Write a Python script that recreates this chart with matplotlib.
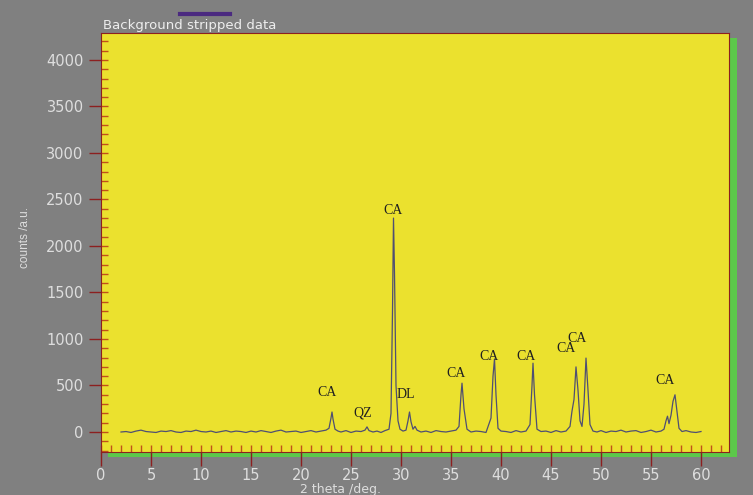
import numpy as np
import matplotlib.pyplot as plt
from matplotlib.patches import Rectangle
from matplotlib.lines import Line2D
from matplotlib.ticker import MultipleLocator

# traza XRD (2 theta, cuentas)
two_theta = [
    2.0, 2.5, 3.0, 3.5, 4.0, 4.5, 5.0, 5.5, 6.0, 6.5, 7.0, 7.5, 8.0, 8.5, 9.0, 9.5,
    10.0, 10.5, 11.0, 11.5, 12.0, 12.5, 13.0, 13.5, 14.0, 14.5, 15.0, 15.5, 16.0, 16.5,
    17.0, 17.5, 18.0, 18.5, 19.0, 19.5, 20.0, 20.5, 21.0, 21.5, 22.0, 22.5,
    22.8, 23.0, 23.1, 23.2, 23.4, 23.7, 24.0, 24.5, 25.0, 25.5, 26.0, 26.4, 26.6, 26.8,
    27.2, 27.6, 28.0, 28.4, 28.8, 29.0, 29.15, 29.25, 29.35, 29.5, 29.7, 29.9, 30.2,
    30.5, 30.7, 30.85, 31.0, 31.2, 31.4, 31.6, 32.0, 32.5, 33.0, 33.5, 34.0, 34.5,
    35.0, 35.5, 35.8, 36.0, 36.1, 36.3, 36.6, 37.0, 37.5, 38.0, 38.5, 39.0, 39.2,
    39.35, 39.5, 39.7, 40.0, 40.5, 41.0, 41.5, 42.0, 42.5, 42.9, 43.1, 43.2, 43.35,
    43.6, 44.0, 44.5, 45.0, 45.5, 46.0, 46.5, 46.9, 47.1, 47.3, 47.5, 47.7, 47.9,
    48.1, 48.3, 48.5, 48.7, 48.9, 49.2, 49.6, 50.0, 50.5, 51.0, 51.5, 52.0, 52.5,
    53.0, 53.5, 54.0, 54.5, 55.0, 55.5, 56.0, 56.3, 56.5, 56.65, 56.8, 57.0, 57.2,
    57.4, 57.6, 57.8, 58.1, 58.5, 59.0, 59.5, 60.0,
]
counts = [
    0, 5, -5, 10, 20, 5, 0, -5, 10, 5, 15, 0, -5, 10, 5, 20,
    5, 0, 10, -5, 5, 15, 0, 10, 5, -5, 10, 0, 15, 5,
    -5, 10, 20, 0, 5, 10, -5, 5, 15, 0, 10, 20,
    40, 150, 215, 140, 30, 10, 0, 15, -5, 10, 5, 20, 55, 15,
    0, 10, -5, 15, 30, 200, 1300, 2300, 1700, 500, 120, 30, 10,
    20, 120, 215, 110, 30, 60, 20, 0, 10, -5, 15, 5, 0,
    10, 20, 60, 400, 525, 250, 30, 0, 10, 5, -5, 150, 600,
    785, 400, 40, 10, 5, -5, 15, 0, 10, 80, 500, 740, 400,
    30, 5, 10, -5, 15, 0, 10, 60, 225, 350, 700, 450, 120,
    60, 300, 795, 450, 80, 10, 0, 15, -5, 10, 5, 20, 0,
    10, 15, -5, 5, 20, 0, 10, 30, 120, 170, 90, 180, 330,
    400, 220, 40, 5, 15, 0, -5, 5,
]

# etiquetas de fases (texto, x, y)
fases = ["CA", "QZ", "CA", "DL", "CA", "CA", "CA", "CA", "CA", "CA"]
fases_x = [22.6, 26.2, 29.2, 30.5, 35.5, 38.8, 42.5, 46.5, 47.6, 56.4]
fases_y = [420, 200, 2380, 400, 630, 810, 815, 900, 1010, 550]

gris = "#808080"
amarillo = "#ebe12e"
verde = "#5cc84a"
rojo = "#8c2020"
naranja = "#c0501a"
texto = "#dedede"

fig = plt.figure(figsize=(7.53, 4.95), dpi=100, facecolor=gris)
W, H = 753, 495

# sombra verde detras de los ejes
fig.patches.append(Rectangle((108 / W, (H - 457) / H), 629 / W, 419 / H,
                             transform=fig.transFigure, facecolor=verde,
                             edgecolor="none", zorder=-5))

ax = fig.add_axes([101 / W, (H - 452) / H, 628 / W, 419 / H])
ax.set_zorder(2)
ax.set_facecolor(amarillo)
ax.plot(two_theta, counts, color="#4f4f72", lw=0.9)

for t, x, y in zip(fases, fases_x, fases_y):
    ax.text(x, y, t, ha="center", va="center", fontsize=10,
            family="Liberation Serif", color="#202020")

ax.set_xlim(0, 62.8)
ax.set_ylim(-215, 4290)
ax.xaxis.remove_overlapping_locs = False
ax.yaxis.remove_overlapping_locs = False
ax.xaxis.set_minor_locator(MultipleLocator(1))
ax.yaxis.set_minor_locator(MultipleLocator(100))
ax.set_yticks(np.arange(0, 4001, 500))
ax.set_xticks(np.arange(0, 61, 5))
ax.tick_params(which="major", direction="out", color=rojo, width=1,
               labelcolor=texto, labelsize=10.5)
ax.tick_params(axis="x", which="major", length=10, pad=1.5)
ax.tick_params(axis="y", which="major", length=9)
ax.tick_params(which="minor", direction="in", length=5, color=naranja, width=1)
for s in ax.spines.values():
    s.set_color(rojo)
    s.set_linewidth(0.8)

fig.text(25 / W, 1 - 238 / H, "counts /a.u.", rotation=90, ha="center", va="center",
         color=texto, fontsize=8.5, family="Liberation Sans")
fig.text(340 / W, 1 - 489 / H, "2 theta /deg.", ha="center", va="center",
         color=texto, fontsize=9)

# leyenda
fig.lines.append(Line2D([180 / W, 230 / W], [1 - 14 / H, 1 - 14 / H],
                        transform=fig.transFigure, color="#4b2a80", lw=3))
fig.text(103 / W, 1 - 25 / H, "Background stripped data", ha="left", va="center",
         color="#eeeeee", fontsize=9.5)

fig.savefig("out.png", dpi=100, facecolor=gris)
